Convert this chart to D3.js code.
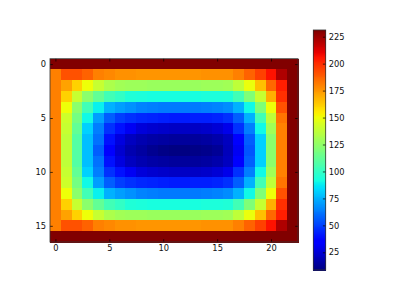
<!DOCTYPE html>
<meta charset="utf-8">
<style>
  body { margin: 0; background: #fff; }
  text { font-family: "DejaVu Sans", sans-serif; font-size: 8.3px; fill: #111; }
  .axis path, .axis line { stroke: #000; stroke-width: 0.7px; }
  .cells rect, .cbar rect { shape-rendering: crispEdges; }
</style>
<svg width="400" height="300"></svg>
<script src="https://d3js.org/d3.v7.min.js"></script>
<script>
  // grid, rows 0..16, cols 0..22
  var row0  = [231,231,231,231,231,231,231,231,231,231,231,231,231,231,231,231,231,231,231,231,231,231,231];
  var row1  = [181,192,192,188,181,179,177,177,176,176,176,176,176,176,177,177,177,181,188,196,207,222,231];
  var row2  = [181,173,162,151,140,133,130,129,129,128,128,128,128,128,129,129,130,138,150,166,187,204,231];
  var row3  = [181,162,140,124,113,104,100, 95, 94, 93, 93, 93, 93, 93, 94, 94, 95,104,121,140,170,200,231];
  var row4  = [181,151,124,104, 89, 75, 71, 68, 65, 64, 63, 63, 63, 63, 64, 65, 67, 75, 91,121,151,192,231];
  var row5  = [181,142,118, 91, 71, 57, 50, 47, 45, 44, 43, 42, 42, 43, 43, 44, 47, 57, 75,104,138,184,231];
  var row6  = [181,140,113, 82, 64, 47, 40, 31, 26, 24, 23, 22, 22, 22, 23, 25, 29, 47, 64, 91,130,181,231];
  var row7  = [181,138,109, 78, 61, 40, 27, 21, 18, 16, 15, 14, 14, 14, 15, 17, 21, 33, 57, 82,124,181,231];
  var row8  = [181,138,109, 78, 57, 34, 24, 18, 15, 12, 10,  9,  9, 10, 11, 13, 20, 31, 55, 82,124,181,231];
  var row9  = [181,138,109, 78, 61, 40, 27, 21, 18, 16, 15, 14, 14, 14, 15, 17, 21, 33, 57, 82,124,181,231];
  var row10 = [181,140,113, 82, 64, 47, 40, 31, 26, 24, 23, 22, 22, 22, 23, 25, 29, 47, 64, 91,130,181,231];
  var row11 = [181,142,118, 91, 71, 57, 50, 47, 45, 44, 43, 42, 42, 43, 43, 44, 47, 57, 75,104,138,184,231];
  var row12 = [181,151,124,104, 89, 75, 71, 68, 65, 64, 63, 63, 63, 63, 64, 65, 67, 75, 91,121,151,192,231];
  var row13 = [181,162,140,124,113,104,100, 95, 94, 93, 93, 93, 93, 93, 94, 94, 95,104,121,140,170,200,231];
  var row14 = [181,173,162,151,140,133,130,129,129,128,128,128,128,128,129,129,130,138,150,166,187,204,231];
  var row15 = [181,192,192,188,181,179,177,177,176,176,176,176,176,176,177,177,177,181,188,196,207,222,231];
  var row16 = [231,231,231,231,231,231,231,231,231,231,231,231,231,231,231,231,231,231,231,231,231,231,231];
  var grid = [row0,row1,row2,row3,row4,row5,row6,row7,row8,row9,row10,row11,row12,row13,row14,row15,row16];

  var xTicks = [0, 5, 10, 15, 20];
  var yTicks = [0, 5, 10, 15];
  var cbTicks = [25, 50, 75, 100, 125, 150, 175, 200, 225];
  var vmin = 8.6, vmax = 231.2;

  // jet colormap, channel by channel
  var jetR = d3.scaleLinear().domain([0, 0.35, 0.66, 0.89, 1]).range([0, 0, 1, 1, 0.5]).clamp(true);
  var jetG = d3.scaleLinear().domain([0, 0.125, 0.375, 0.64, 0.91, 1]).range([0, 0, 1, 1, 0, 0]).clamp(true);
  var jetB = d3.scaleLinear().domain([0, 0.11, 0.34, 0.65, 1]).range([0.5, 1, 1, 0, 0]).clamp(true);
  var norm = d3.scaleLinear().domain([vmin, vmax]).range([0, 1]).clamp(true);
  function jet(v) {
    var t = norm(v);
    return d3.rgb(255 * jetR(t), 255 * jetG(t), 255 * jetB(t)).toString();
  }

  var svg = d3.select("svg");
  var axLeft = 50, axRight = 298, axTop = 58.7, axBottom = 242;

  var x = d3.scaleLinear().domain([-0.5, 22.5]).range([axLeft, axRight]);
  var y = d3.scaleLinear().domain([-0.5, 16.5]).range([axTop, axBottom]);

  var cells = [];
  grid.forEach(function(r, i) { r.forEach(function(v, j) { cells.push({r: i, c: j, v: v}); }); });

  svg.append("g")
    .attr("class", "cells")
    .selectAll("rect")
    .data(cells)
    .enter().append("rect")
      .attr("x", function(d) { return x(d.c - 0.5); })
      .attr("y", function(d) { return y(d.r - 0.5); })
      .attr("width", x(1) - x(0) + 0.5)
      .attr("height", y(1) - y(0) + 0.5)
      .attr("fill", function(d) { return jet(d.v); });

  // axes, ticks inward on all four sides (classic style)
  svg.append("g").attr("class", "axis")
    .attr("transform", "translate(0," + axBottom + ")")
    .call(d3.axisBottom(x).tickValues(xTicks).tickSizeInner(-2.8).tickSizeOuter(0).tickPadding(3.5))
    .call(function(g) { g.select(".domain").remove(); });
  svg.append("g").attr("class", "axis")
    .attr("transform", "translate(0," + axTop + ")")
    .call(d3.axisTop(x).tickValues(xTicks).tickSizeInner(-2.8).tickSizeOuter(0).tickFormat(""))
    .call(function(g) { g.select(".domain").remove(); });
  svg.append("g").attr("class", "axis")
    .attr("transform", "translate(" + axLeft + ",0)")
    .call(d3.axisLeft(y).tickValues(yTicks).tickSizeInner(-2.8).tickSizeOuter(0).tickPadding(4))
    .call(function(g) { g.select(".domain").remove(); });
  svg.append("g").attr("class", "axis")
    .attr("transform", "translate(" + axRight + ",0)")
    .call(d3.axisRight(y).tickValues(yTicks).tickSizeInner(-2.8).tickSizeOuter(0).tickFormat(""))
    .call(function(g) { g.select(".domain").remove(); });

  svg.append("rect")
    .attr("x", axLeft).attr("y", axTop)
    .attr("width", axRight - axLeft).attr("height", axBottom - axTop)
    .attr("fill", "none").attr("stroke", "#333").attr("stroke-width", 0.8);

  // colorbar
  var cbLeft = 313.3, cbRight = 325.7, cbTop = 30, cbBottom = 270;
  var cy = d3.scaleLinear().domain([vmin, vmax]).range([cbBottom, cbTop]);
  var steps = d3.range(256).map(function(i) { return vmin + (vmax - vmin) * i / 255; });
  var stepH = (cbBottom - cbTop) / 256;

  svg.append("g")
    .attr("class", "cbar")
    .selectAll("rect")
    .data(steps)
    .enter().append("rect")
      .attr("x", cbLeft)
      .attr("y", function(d, i) { return cbBottom - (i + 1) * stepH; })
      .attr("width", cbRight - cbLeft)
      .attr("height", stepH + 0.6)
      .attr("fill", function(d) { return jet(d); });

  svg.append("g").attr("class", "axis")
    .attr("transform", "translate(" + cbRight + ",0)")
    .call(d3.axisRight(cy).tickValues(cbTicks).tickSizeInner(-2.8).tickSizeOuter(0).tickPadding(3))
    .call(function(g) { g.select(".domain").remove(); });

  svg.append("rect")
    .attr("x", cbLeft).attr("y", cbTop)
    .attr("width", cbRight - cbLeft).attr("height", cbBottom - cbTop)
    .attr("fill", "none").attr("stroke", "#333").attr("stroke-width", 0.8);
</script>
